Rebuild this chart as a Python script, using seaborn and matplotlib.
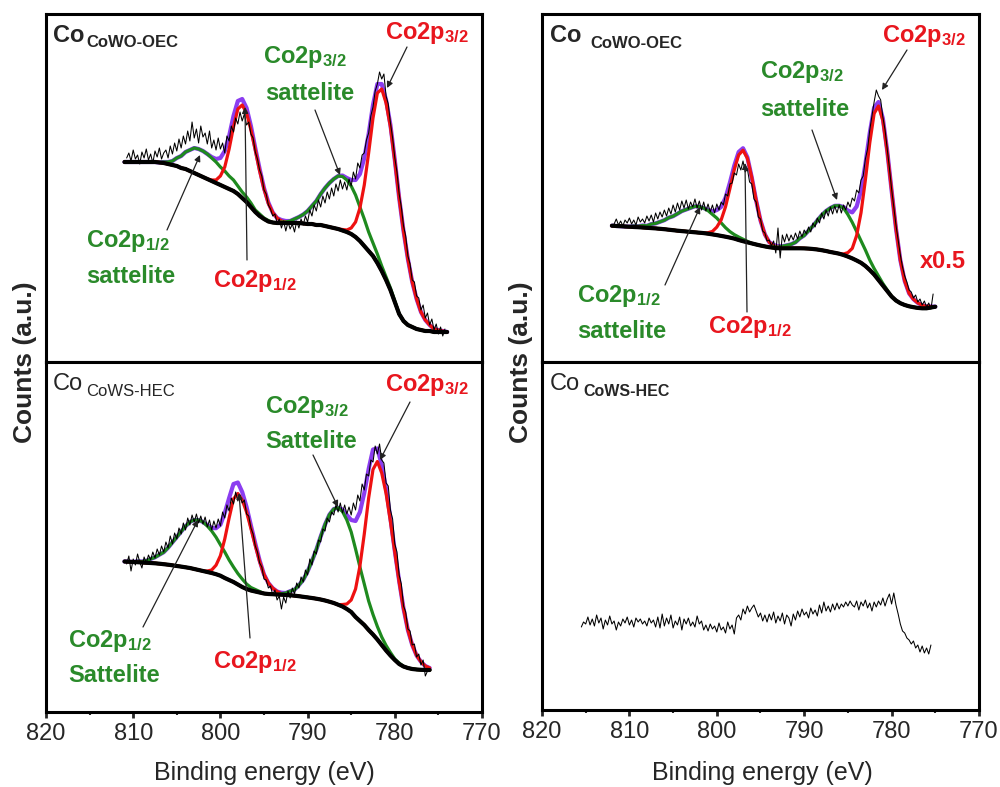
import numpy as np
import matplotlib
matplotlib.use("Agg")
import matplotlib.pyplot as plt
from matplotlib.ticker import MultipleLocator
from matplotlib.patches import FancyArrowPatch
import seaborn as sns

# ---------------- DATA (counts, arbitrary units) ----------------
# Fit grids: 0.5 eV steps, descending binding energy
tl_fit_start = 811.0
tl_bg = [200, 200, 200, 200, 200, 200, 200, 200, 199.5, 199,
         198, 197, 196, 194, 193, 191, 189, 187, 185, 183,
         181, 179, 177, 175, 173, 171, 168, 164, 160, 155,
         150, 146, 143, 140.5, 139.5, 139, 139, 139, 139, 139,
         139, 138.5, 138, 138, 137, 137, 136, 135, 134, 133,
         131.5, 130, 128, 125, 121, 116, 111, 106, 99, 91,
         82, 72, 60, 48, 41, 37, 35, 33, 32, 31,
         31, 30, 30, 30, 30]
tl_sat12 = [0, 0, 0, 0, 0, 0, 0, 0, 0, 1,
            2, 4, 8, 12, 17, 21, 25, 26, 26, 25,
            23, 21, 18, 16, 13, 11, 8, 6, 5, 4,
            2, 2, 1, 1, 0, 0, 0, 0, 0, 0,
            0, 0, 0, 0, 0, 0, 0, 0, 0, 0,
            0, 0, 0, 0, 0, 0, 0, 0, 0, 0,
            0, 0, 0, 0, 0, 0, 0, 0, 0, 0,
            0, 0, 0, 0, 0]
tl_p12 = [0, 0, 0, 0, 0, 0, 0, 0, 0, 0,
          0, 0, 0, 0, 0, 0, 0, 0, 0, 0,
          1, 3, 9, 20, 40, 64, 85, 93, 89, 77,
          62, 45, 30, 18, 10, 5, 2, 1, 0, 0,
          0, 0, 0, 0, 0, 0, 0, 0, 0, 0,
          0, 0, 0, 0, 0, 0, 0, 0, 0, 0,
          0, 0, 0, 0, 0, 0, 0, 0, 0, 0,
          0, 0, 0, 0, 0]
tl_sat32 = [0, 0, 0, 0, 0, 0, 0, 0, 0, 0,
            0, 0, 0, 0, 0, 0, 0, 0, 0, 0,
            0, 0, 0, 0, 0, 0, 0, 0, 0, 0,
            0, 0, 0, 0, 0, 0, 1, 1, 2, 4,
            6, 9, 13, 18, 24, 31, 38, 44, 49, 53,
            54, 52, 48, 42, 34, 27, 19, 13, 9, 5,
            3, 2, 1, 0, 0, 0, 0, 0, 0, 0,
            0, 0, 0, 0, 0]
tl_p32 = [0, 0, 0, 0, 0, 0, 0, 0, 0, 0,
          0, 0, 0, 0, 0, 0, 0, 0, 0, 0,
          0, 0, 0, 0, 0, 0, 0, 0, 0, 0,
          0, 0, 0, 0, 0, 0, 0, 0, 0, 0,
          0, 0, 0, 0, 0, 0, 0, 0, 0, 0,
          1, 2, 6, 15, 33, 61, 98, 138, 170, 182,
          177, 163, 141, 116, 90, 66, 45, 30, 18, 11,
          6, 3, 2, 1, 0]
tl_raw_start = 810.75   # 0.25 eV steps
tl_raw = [204, 209, 201, 212, 203, 207, 198, 210,
          204, 213, 202, 208, 199, 211, 205, 214,
          203, 209, 212, 204, 216, 208, 219, 211,
          223, 214, 226, 218, 231, 221, 240, 224,
          233, 219, 236, 225, 229, 218, 231, 214,
          222, 212, 224, 213, 219, 209, 226, 221,
          236, 230, 244, 238, 250, 241, 248, 237,
          240, 228, 224, 210, 203, 192, 186, 172,
          168, 157, 153, 146, 148, 139, 143, 134,
          141, 131, 140, 133, 138, 130, 141, 134,
          143, 137, 146, 140, 152, 146, 157, 151,
          162, 155, 166, 159, 170, 163, 174, 166,
          178, 171, 182, 173, 180, 172, 183, 176,
          190, 183, 199, 194, 207, 209, 222, 229,
          246, 255, 271, 278, 290, 283, 288, 266,
          258, 239, 224, 204, 190, 168, 155, 136,
          126, 106, 98, 82, 80, 66, 64, 52,
          57, 44, 49, 37, 43, 32, 38, 28,
          35, 26, 33]

bl_fit_start = 811.0
bl_bg = [150.5, 150.3, 150, 149.8, 149.5, 149.2, 149, 148.7, 148.3, 147.8,
         147.3, 146.7, 146, 145.4, 144.7, 144, 143, 142, 141, 140,
         139, 137.8, 136.3, 134, 132, 130, 127.5, 125, 123, 121.5,
         120.5, 119.5, 118.5, 118, 117.8, 117.5, 117.3, 117, 116.8, 116.3,
         115.8, 115.2, 114.6, 114, 113.3, 112.5, 111.5, 110.3, 109, 107.3,
         105.5, 103, 100, 95, 91, 87, 82, 77.5, 72.5, 67,
         61.5, 56.5, 52, 48, 45.5, 44, 43, 42.5, 42.2, 42,
         42]
bl_sat12 = [0, 0, 0, 1, 1, 2, 4, 6, 9, 12,
            17, 23, 29, 35, 41, 46, 49, 50, 49, 46,
            42, 37, 31, 26, 20, 15, 11, 8, 5, 3,
            2, 1, 0, 0, 0, 0, 0, 0, 0, 0,
            0, 0, 0, 0, 0, 0, 0, 0, 0, 0,
            0, 0, 0, 0, 0, 0, 0, 0, 0, 0,
            0, 0, 0, 0, 0, 0, 0, 0, 0, 0,
            0]
bl_p12 = [0, 0, 0, 0, 0, 0, 0, 0, 0, 0,
          0, 0, 0, 0, 0, 0, 0, 0, 0, 1,
          3, 9, 20, 39, 62, 83, 91, 87, 77, 62,
          46, 31, 19, 11, 6, 3, 1, 0, 0, 0,
          0, 0, 0, 0, 0, 0, 0, 0, 0, 0,
          0, 0, 0, 0, 0, 0, 0, 0, 0, 0,
          0, 0, 0, 0, 0, 0, 0, 0, 0, 0,
          0]
bl_sat32 = [0, 0, 0, 0, 0, 0, 0, 0, 0, 0,
            0, 0, 0, 0, 0, 0, 0, 0, 0, 0,
            0, 0, 0, 0, 0, 0, 0, 0, 0, 0,
            0, 0, 0, 0, 0, 0, 1, 2, 4, 6,
            11, 17, 26, 37, 49, 63, 76, 87, 94, 97,
            95, 89, 80, 68, 54, 41, 29, 20, 13, 8,
            5, 3, 1, 1, 0, 0, 0, 0, 0, 0,
            0]
bl_p32 = [0, 0, 0, 0, 0, 0, 0, 0, 0, 0,
          0, 0, 0, 0, 0, 0, 0, 0, 0, 0,
          0, 0, 0, 0, 0, 0, 0, 0, 0, 0,
          0, 0, 0, 0, 0, 0, 0, 0, 0, 0,
          0, 0, 0, 0, 0, 0, 0, 0, 0, 0,
          2, 5, 12, 28, 55, 91, 132, 165, 178, 172,
          157, 134, 108, 82, 58, 38, 24, 14, 8, 4,
          2]
bl_raw_start = 810.75
bl_raw = [148, 156, 141, 153, 147, 158, 150, 144,
          155, 149, 157, 152, 160, 154, 163, 157,
          166, 160, 170, 164, 176, 168, 179, 173,
          184, 178, 189, 182, 194, 187, 197, 190,
          198, 189, 196, 188, 195, 185, 192, 182,
          191, 184, 193, 186, 200, 194, 207, 201,
          214, 208, 220, 211, 217, 209, 212, 198,
          196, 184, 178, 166, 160, 149, 145, 133,
          132, 124, 126, 117, 122, 112, 116, 103,
          115, 109, 121, 114, 124, 118, 129, 124,
          135, 130, 142, 137, 153, 147, 161, 158,
          172, 170, 183, 181, 194, 190, 200, 197,
          207, 200, 209, 199, 207, 198, 205, 197,
          209, 202, 217, 211, 228, 222, 238, 236,
          252, 250, 266, 258, 268, 252, 249, 229,
          226, 202, 193, 168, 160, 137, 128, 106,
          100, 83, 81, 67, 68, 55, 58, 47,
          52, 36, 41]

tr_fit_start = 812.0
tr_bg = [136.3, 136, 135.8, 135.5, 135.3, 135, 134.8, 134.5, 134.2, 133.9,
         133.6, 133.2, 132.8, 132.3, 131.8, 131.3, 130.9, 130.5, 130.1, 129.7,
         129.3, 128.9, 128.3, 127.6, 126.9, 126.1, 125.3, 124.4, 123.4, 122,
         120.8, 119.7, 118.6, 117.5, 116.5, 115.6, 114.8, 114.2, 113.8, 113.7,
         113.7, 113.7, 113.7, 113.7, 113.6, 113.4, 113, 112.5, 111.8, 111,
         110, 109.2, 108.3, 107, 105.4, 103.6, 101.5, 99.2, 96, 92,
         87.5, 82, 76.5, 71, 65.5, 61.5, 58.8, 57, 55.7, 54.8,
         54.1, 53.7, 53.7, 54.5, 55.3]
tr_sat12 = [0, 0, 0, 0, 0, 1, 1, 2, 2, 4,
            5, 7, 9, 12, 14, 17, 20, 22, 24, 26,
            26, 25, 23, 20, 17, 13, 9, 6, 4, 3,
            2, 1, 0, 0, 0, 0, 0, 0, 0, 0,
            0, 0, 0, 0, 0, 0, 0, 0, 0, 0,
            0, 0, 0, 0, 0, 0, 0, 0, 0, 0,
            0, 0, 0, 0, 0, 0, 0, 0, 0, 0,
            0, 0, 0, 0, 0]
tr_p12 = [0, 0, 0, 0, 0, 0, 0, 0, 0, 0,
          0, 0, 0, 0, 0, 0, 0, 0, 0, 0,
          0, 0, 1, 3, 8, 16, 30, 49, 69, 85,
          91, 84, 66, 44, 25, 12, 5, 2, 1, 0,
          0, 0, 0, 0, 0, 0, 0, 0, 0, 0,
          0, 0, 0, 0, 0, 0, 0, 0, 0, 0,
          0, 0, 0, 0, 0, 0, 0, 0, 0, 0,
          0, 0, 0, 0, 0]
tr_sat32 = [0, 0, 0, 0, 0, 0, 0, 0, 0, 0,
            0, 0, 0, 0, 0, 0, 0, 0, 0, 0,
            0, 0, 0, 0, 0, 0, 0, 0, 0, 0,
            0, 0, 0, 0, 0, 0, 0, 1, 1, 2,
            3, 4, 6, 10, 13, 18, 23, 29, 35, 40,
            44, 47, 48, 47, 42, 36, 29, 22, 16, 10,
            6, 4, 2, 1, 0, 0, 0, 0, 0, 0,
            0, 0, 0, 0, 0]
tr_p32 = [0, 0, 0, 0, 0, 0, 0, 0, 0, 0,
          0, 0, 0, 0, 0, 0, 0, 0, 0, 0,
          0, 0, 0, 0, 0, 0, 0, 0, 0, 0,
          0, 0, 0, 0, 0, 0, 0, 0, 0, 0,
          0, 0, 0, 0, 0, 0, 0, 0, 0, 0,
          0, 0, 0, 1, 4, 10, 25, 50, 86, 127,
          161, 174, 165, 139, 106, 72, 43, 24, 13, 8,
          5, 3, 2, 1, 0]
tr_raw_start = 811.75
tr_raw = [138, 143, 137, 141, 136, 142, 139, 144,
          138, 142, 137, 145, 140, 143, 139, 146,
          141, 147, 140, 149, 143, 150, 145, 152,
          146, 154, 148, 157, 150, 159, 152, 161,
          154, 162, 153, 160, 155, 163, 154, 161,
          152, 160, 151, 158, 150, 157, 149, 158,
          152, 160, 157, 168, 166, 178, 179, 189,
          187, 198, 192, 201, 190, 193, 180, 178,
          163, 160, 145, 143, 131, 129, 121, 122,
          116, 121, 109, 134, 104, 127, 120, 128,
          121, 127, 122, 129, 123, 131, 125, 132,
          128, 135, 130, 139, 135, 144, 139, 149,
          143, 152, 146, 155, 148, 156, 149, 157,
          149, 157, 152, 160, 155, 164, 161, 172,
          169, 182, 186, 203, 213, 232, 246, 260,
          272, 266, 262, 245, 232, 213, 194, 173,
          155, 137, 122, 107, 95, 86, 80, 72,
          70, 64, 67, 60, 63, 57, 61, 55,
          59, 53, 68]

br_raw_start = 815.5
br_raw = [83, 88, 86, 93, 85, 91, 84, 95,
          87, 92, 81, 90, 85, 94, 86, 89,
          80, 88, 84, 91, 87, 93, 85, 90,
          83, 92, 88, 91, 86, 89, 84, 92,
          87, 90, 83, 93, 82, 96, 84, 92,
          86, 95, 82, 89, 85, 93, 80, 91,
          86, 92, 84, 88, 83, 94, 86, 89,
          80, 85, 79, 86, 81, 84, 78, 87,
          80, 83, 77, 88, 81, 85, 76, 92,
          95, 90, 101, 96, 104, 98, 102, 105,
          99, 93, 97, 89, 95, 88, 96, 90,
          98, 87, 94, 89, 97, 86, 95, 92,
          84, 96, 90, 99, 93, 101, 95, 98,
          92, 102, 96, 100, 94, 105, 97, 108,
          99, 104, 98, 106, 100, 107, 101, 106,
          103, 108, 104, 109, 105, 103, 109, 100,
          108, 104, 110, 102, 107, 99, 108, 103,
          109, 105, 112, 104, 111, 116, 106, 117,
          105, 96, 86, 79, 77, 72, 70, 66,
          69, 62, 65, 58, 64, 57, 62, 56,
          65]

x_ticks = [820, 810, 800, 790, 780, 770]

# ---------------- STYLE ----------------
sns.set_style("white")
plt.rcParams["font.family"] = ["Liberation Sans", "DejaVu Sans"]
plt.rcParams["mathtext.fontset"] = "custom"
plt.rcParams["mathtext.rm"] = "Liberation Sans:bold"
plt.rcParams["mathtext.it"] = "Liberation Sans:bold"
plt.rcParams["mathtext.bf"] = "Liberation Sans:bold"
plt.rcParams["mathtext.default"] = "rm"

RED = "#EE1111"
GREEN = "#1E8A1E"
GREEN_T = "#2A8A2A"
RED_T = "#E8161E"
PURPLE = "#8B3DF0"

W, H = 1000, 787
fig = plt.figure(figsize=(10, 7.87), dpi=100)
fig.patch.set_facecolor("white")


def axes_px(x0, y0, x1, y1):
    return fig.add_axes([x0 / W, 1 - y1 / H, (x1 - x0) / W, (y1 - y0) / H])


def F(px, py):
    return (px / W, 1 - py / H)


ax_tl = axes_px(46, 14, 482, 362)
ax_bl = axes_px(46, 362, 482, 712)
ax_tr = axes_px(542, 14, 979, 362)
ax_br = axes_px(542, 362, 979, 710)


def egrid(start, step, n):
    return start - step * np.arange(n)


def draw_raw(ax, raw_start, raw):
    er = egrid(raw_start, 0.25, len(raw))
    sns.lineplot(x=er, y=np.asarray(raw, float), ax=ax, color="black",
                 linewidth=0.75, estimator=None, sort=False, zorder=6)


def draw_fit(ax, fit_start, bg, sat12, p12, sat32, p32, raw_start, raw):
    e = egrid(fit_start, 0.5, len(bg))
    bg = np.asarray(bg, float)
    comps = [(np.asarray(sat12, float), GREEN), (np.asarray(p12, float), RED),
             (np.asarray(sat32, float), GREEN), (np.asarray(p32, float), RED)]
    env = bg + sum(c for c, _ in comps)
    sns.lineplot(x=e, y=env, ax=ax, color=PURPLE, linewidth=3.0,
                 estimator=None, sort=False, zorder=3)
    for c, col in comps:
        sns.lineplot(x=e, y=bg + c, ax=ax, color=col, linewidth=2.3,
                     estimator=None, sort=False, zorder=4)
    sns.lineplot(x=e, y=bg, ax=ax, color="black", linewidth=3.0,
                 estimator=None, sort=False, zorder=5)
    draw_raw(ax, raw_start, raw)


draw_fit(ax_tl, tl_fit_start, tl_bg, tl_sat12, tl_p12, tl_sat32, tl_p32,
         tl_raw_start, tl_raw)
draw_fit(ax_bl, bl_fit_start, bl_bg, bl_sat12, bl_p12, bl_sat32, bl_p32,
         bl_raw_start, bl_raw)
draw_fit(ax_tr, tr_fit_start, tr_bg, tr_sat12, tr_p12, tr_sat32, tr_p32,
         tr_raw_start, tr_raw)
draw_raw(ax_br, br_raw_start, br_raw)

for ax, ytop in [(ax_tl, 348), (ax_bl, 350), (ax_tr, 348), (ax_br, 348)]:
    ax.set_xlim(820, 770)
    ax.set_ylim(0, ytop)
    ax.set_yticks([])
    ax.set_xlabel("")
    ax.set_ylabel("")
    ax.set_facecolor("white")
    for sp in ax.spines.values():
        sp.set_linewidth(2.2)
        sp.set_color("black")
        sp.set_visible(True)

for ax in (ax_tl, ax_tr):
    ax.set_xticks(x_ticks)
    ax.tick_params(axis="x", which="both", bottom=False, labelbottom=False)

for ax in (ax_bl, ax_br):
    ax.set_xticks(x_ticks)
    ax.xaxis.set_minor_locator(MultipleLocator(5))
    ax.tick_params(axis="x", which="major", direction="out", length=4,
                   width=2, labelsize=17, pad=4, bottom=True)
    ax.tick_params(axis="x", which="minor", direction="out", length=2.5,
                   width=1.5, bottom=True)

# ---------------- TEXT ----------------
def ftext(px, py, s, **kw):
    fig.text(px / W, 1 - py / H, s, **kw)


lab = dict(fontsize=17, fontweight="bold", ha="left", va="baseline")

# axis labels
ftext(25, 362, "Counts (a.u.)", rotation=90, fontsize=19, fontweight="bold",
      ha="center", va="center")
ftext(521, 362, "Counts (a.u.)", rotation=90, fontsize=19, fontweight="bold",
      ha="center", va="center")
ftext(264, 780, "Binding energy (eV)", fontsize=18, ha="center", va="baseline")
ftext(762, 780, "Binding energy (eV)", fontsize=18, ha="center", va="baseline")

# panel titles
ftext(53, 42, "Co", fontsize=17, fontweight="bold", va="baseline")
ftext(86, 47, "CoWO-OEC", fontsize=12, fontweight="bold", va="baseline")
ftext(53, 390, "Co", fontsize=17, va="baseline")
ftext(86, 396.5, "CoWS-HEC", fontsize=12, va="baseline")
ftext(550, 42, "Co", fontsize=17, fontweight="bold", va="baseline")
ftext(590, 48, "CoWO-OEC", fontsize=12, fontweight="bold", va="baseline")
ftext(550, 390, "Co", fontsize=17, va="baseline")
ftext(583, 396, "CoWS-HEC", fontsize=11.5, fontweight="bold", va="baseline")

# peak labels: top-left
ftext(385, 39, r"Co2p$_{3/2}$", color=RED_T, **lab)
ftext(263, 63, r"Co2p$_{3/2}$", color=GREEN_T, **lab)
ftext(265, 100, "sattelite", color=GREEN_T, **lab)
ftext(86, 247, r"Co2p$_{1/2}$", color=GREEN_T, **lab)
ftext(86, 283, "sattelite", color=GREEN_T, **lab)
ftext(213, 287, r"Co2p$_{1/2}$", color=RED_T, **lab)
# bottom-left
ftext(385, 391, r"Co2p$_{3/2}$", color=RED_T, **lab)
ftext(265, 413, r"Co2p$_{3/2}$", color=GREEN_T, **lab)
ftext(265, 448, "Sattelite", color=GREEN_T, **lab)
ftext(68, 647, r"Co2p$_{1/2}$", color=GREEN_T, **lab)
ftext(68, 682, "Sattelite", color=GREEN_T, **lab)
ftext(213, 668, r"Co2p$_{1/2}$", color=RED_T, **lab)
# top-right
ftext(882, 42, r"Co2p$_{3/2}$", color=RED_T, **lab)
ftext(760, 78, r"Co2p$_{3/2}$", color=GREEN_T, **lab)
ftext(760, 116, "sattelite", color=GREEN_T, **lab)
ftext(577, 302, r"Co2p$_{1/2}$", color=GREEN_T, **lab)
ftext(577, 338, "sattelite", color=GREEN_T, **lab)
ftext(708, 333, r"Co2p$_{1/2}$", color=RED_T, **lab)
ftext(920, 268, "x0.5", color=RED_T, **lab)

# arrows (tail -> tip, figure pixels)
arrows = [
    ((407, 47), (387, 88)), ((315, 110), (340, 175)),
    ((167, 230), (200, 155)), ((247, 260), (245, 107)),
    ((410, 402), (380, 460)), ((313, 455), (338, 507)),
    ((143, 627), (198, 520)), ((250, 638), (239, 493)),
    ((907, 50), (882, 90)), ((812, 130), (837, 200)),
    ((665, 285), (700, 207)), ((747, 312), (745, 163)),
]
for tail, tip in arrows:
    fig.add_artist(FancyArrowPatch(F(*tail), F(*tip),
                                   transform=fig.transFigure,
                                   arrowstyle="-|>", mutation_scale=9,
                                   color="#222222", lw=0.9,
                                   shrinkA=0, shrinkB=0, zorder=10))

fig.savefig("out.png", dpi=100)
